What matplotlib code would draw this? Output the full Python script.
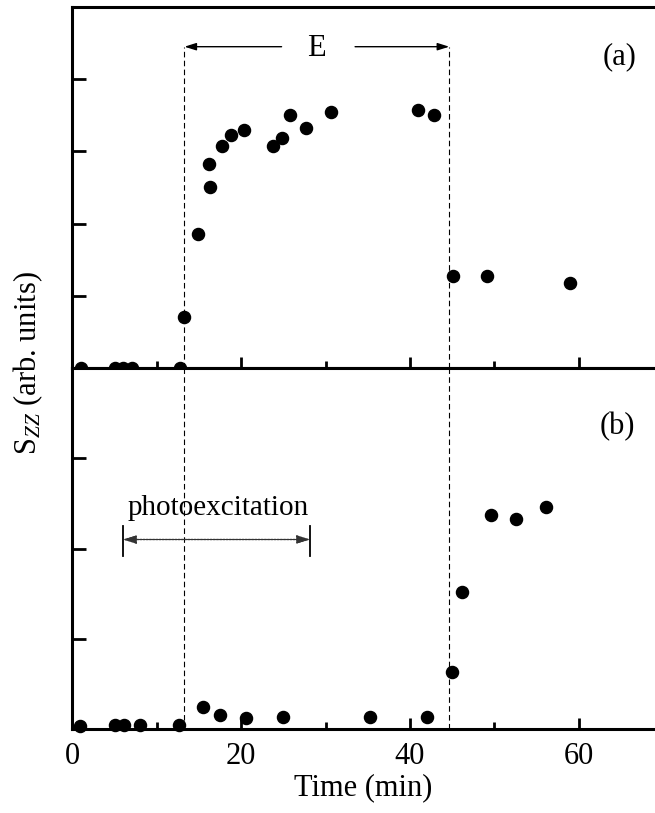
import matplotlib
matplotlib.use("Agg")
import matplotlib.pyplot as plt
from matplotlib.ticker import MultipleLocator

plt.rcParams["font.family"] = ["Liberation Serif", "DejaVu Serif"]
plt.rcParams["mathtext.fontset"] = "custom"
plt.rcParams["mathtext.rm"] = "Liberation Serif"
plt.rcParams["mathtext.it"] = "Liberation Serif:italic"

# panel (a): field E applied
time_a = [1.1, 5.1, 6.0, 7.1, 12.8, 13.2, 14.9, 16.3, 16.25, 17.8, 18.8, 20.3,
          23.75, 24.8, 25.8, 27.7, 30.7, 41.0, 42.8, 45.1, 49.1, 58.9]
szz_a = [0.0, 0.0, 0.0, 0.0, 0.0, 0.70, 1.86, 2.50, 2.83, 3.07, 3.22, 3.29,
         3.07, 3.18, 3.50, 3.33, 3.55, 3.57, 3.50, 1.27, 1.27, 1.17]

# panel (b): photoexcitation
time_b = [0.95, 5.1, 6.2, 8.1, 12.7, 15.5, 17.5, 20.6, 25.0, 35.3, 42.0,
          45.0, 46.1, 49.55, 52.6, 56.1]
szz_b = [0.03, 0.04, 0.04, 0.04, 0.04, 0.24, 0.15, 0.12, 0.13, 0.13, 0.13,
         0.63, 1.52, 2.37, 2.33, 2.46]

field_on, field_off = 13.3, 44.65
photo_start, photo_end = 6.0, 28.2

fig = plt.figure(figsize=(6.55, 8.13), dpi=100)
ax_a = fig.add_axes([0.110, 0.5474, 0.89, 0.444])
ax_b = fig.add_axes([0.110, 0.1033, 0.89, 0.444])

for ax in (ax_a, ax_b):
    ax.set_xlim(0, 69)
    ax.xaxis.set_major_locator(MultipleLocator(20))
    ax.xaxis.set_minor_locator(MultipleLocator(10))
    ax.tick_params(which="both", direction="in", width=2, labelsize=22,
                   top=False, right=False)
    ax.tick_params(which="major", length=8, pad=9)
    ax.tick_params(which="minor", length=5)
    ax.tick_params(axis="y", labelleft=False)
    for side in ("left", "bottom", "top"):
        ax.spines[side].set_linewidth(2.2)
    ax.spines["right"].set_visible(False)

ax_a.set_ylim(0, 5)
ax_a.set_yticks([1, 2, 3, 4])
ax_a.tick_params(axis="x", labelbottom=False)
ax_b.set_ylim(0, 4)
ax_b.set_yticks([1, 2, 3])
ax_a.tick_params(axis="y", length=10)
ax_b.tick_params(axis="y", length=10)

ax_a.plot(time_a, szz_a, "o", color="black", markersize=8.7, clip_on=False, zorder=3)
ax_b.plot(time_b, szz_b, "o", color="black", markersize=8.7, clip_on=False, zorder=3)

# dashed lines marking field on / off
arrow_y = 4.45
for x in (field_on, field_off):
    ax_a.plot([x, x], [0, arrow_y], "--", color="black", lw=0.8, dashes=(5, 3))
    ax_b.axvline(x, ls="--", color="black", lw=0.8, dashes=(5, 3))

head = "-|>,head_length=0.7,head_width=0.22"
ax_a.annotate("", xy=(field_on, arrow_y), xytext=(24.8, arrow_y),
              arrowprops=dict(arrowstyle=head, color="black", lw=1,
                              shrinkA=0, shrinkB=0))
ax_a.annotate("", xy=(field_off, arrow_y), xytext=(33.5, arrow_y),
              arrowprops=dict(arrowstyle=head, color="black", lw=1,
                              shrinkA=0, shrinkB=0))
ax_a.text(28.9, arrow_y - 0.03, "E", fontsize=22, ha="center", va="center")
ax_a.text(0.94, 0.862, "(a)", transform=ax_a.transAxes, fontsize=22,
          ha="center", va="center")

# photoexcitation interval
photo_y = 2.10
ax_b.annotate("", xy=(photo_start, photo_y), xytext=(photo_end, photo_y),
              arrowprops=dict(arrowstyle="<|-|>,head_length=0.8,head_width=0.25",
                              color="#333333", lw=1.0, ls=(0, (1.5, 0.8)),
                              shrinkA=0, shrinkB=0))
ax_b.plot([photo_start, photo_start], [1.92, 2.25], color="black", lw=1.3)
ax_b.plot([photo_end, photo_end], [1.92, 2.25], color="black", lw=1.3)
ax_b.text(17.3, 2.45, "photoexcitation", fontsize=21, ha="center", va="center")
ax_b.text(0.935, 0.837, "(b)", transform=ax_b.transAxes, fontsize=22,
          ha="center", va="center")

ax_b.set_xlabel("Time (min)", fontsize=22, labelpad=2)
fig.text(0.043, 0.553, r"S$_{ZZ}$ (arb. units)", rotation=90, fontsize=22,
         ha="center", va="center")

fig.savefig("out.png", dpi=100)
